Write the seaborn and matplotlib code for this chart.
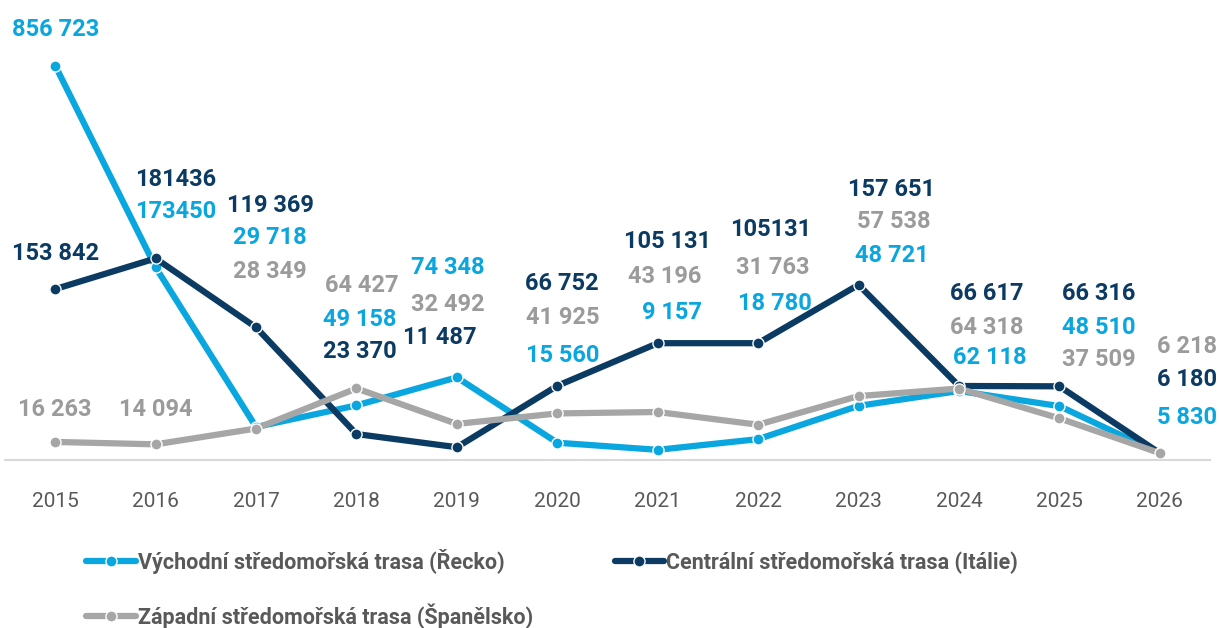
import pandas as pd
import matplotlib.pyplot as plt
import seaborn as sns
from matplotlib.lines import Line2D

# Data
years = list(range(2015, 2027))
east = [856723, 173450, 29718, 49158, 74348, 15560, 9157, 18780, 48721, 62118, 48510, 5830]
central = [153842, 181436, 119369, 23370, 11487, 66752, 105131, 105131, 157651, 66617, 66316, 6180]
west = [16263, 14094, 28349, 64427, 32492, 41925, 43196, 31763, 57538, 64318, 37509, 6218]

# Labels exactly as printed on the chart (spacing is inconsistent in the original)
east_lbl = ["856 723", "173450", "29 718", "49 158", "74 348", "15 560",
            "9 157", "18 780", "48 721", "62 118", "48 510", "5 830"]
central_lbl = ["153 842", "181436", "119 369", "23 370", "11 487", "66 752",
               "105 131", "105131", "157 651", "66 617", "66 316", "6 180"]
west_lbl = ["16 263", "14 094", "28 349", "64 427", "32 492", "41 925",
            "43 196", "31 763", "57 538", "64 318", "37 509", "6 218"]

names = ["Východní středomořská trasa (Řecko)",
         "Centrální středomořská trasa (Itálie)",
         "Západní středomořská trasa (Španělsko)"]
colors = {names[0]: "#0AA6DF", names[1]: "#0B3A62", names[2]: "#A6A6A6"}
label_colors = ["#0AA6DF", "#0B3A62", "#9B9B9B"]

# the original breaks the axis for the 2015 outlier, the point sits at the top
Y_CAP = 355000
Y_MAX = 414000

df = pd.concat([
    pd.DataFrame({"year": years, "value": vals, "route": name})
    for vals, name in zip([east, central, west], names)
])
df["plot_value"] = df["value"].clip(upper=Y_CAP)

sns.set_theme(style="white")
plt.rcParams["font.family"] = ["Roboto", "DejaVu Sans"]

W, H = 1219, 628
AX_BOTTOM = 460
fig = plt.figure(figsize=(W / 100, H / 100), dpi=100)
ax = fig.add_axes([5 / W, 1 - AX_BOTTOM / H, 1205 / W, AX_BOTTOM / H])

sns.lineplot(data=df, x="year", y="plot_value", hue="route", hue_order=names,
             palette=colors, marker="o", markersize=8, markeredgecolor="white",
             markeredgewidth=1, linewidth=4.5, legend=False, ax=ax)

ax.set_xlim(2014.5, 2026.5)
ax.set_ylim(0, Y_MAX)
ax.set_xticks(years)
ax.set_xticklabels([str(y) for y in years])
ax.set_yticks([])
ax.set_xlabel("")
ax.set_ylabel("")
for s in ["top", "right", "left"]:
    ax.spines[s].set_visible(False)
ax.spines["bottom"].set_color("#D9D9D9")
ax.spines["bottom"].set_linewidth(1.5)
ax.tick_params(axis="x", length=0, pad=23, labelsize=15, labelcolor="#595959")
ax.patch.set_alpha(0)

# label placement (pixel y of label centre, pixel x shift from the point)
east_y = [29, 212, 238, 320, 267, 355, 313, 303, 255, 358, 327, 417]
central_y = [253, 180, 205, 352, 338, 283, 242, 230, 190, 293, 293, 380]
west_y = [410, 410, 272, 285, 305, 317, 277, 267, 222, 327, 360, 347]
east_dx = [0, 20, 14, 3, -9, 5, 14, 17, 33, 31, 39, 27]
central_dx = [0, 20, 14, 3, -17, 5, 10, 13, 33, 28, 39, 27]
west_dx = [0, 0, 14, 5, -9, 5, 7, 15, 35, 28, 39, 27]

for lbls, ys, dxs, col in zip([east_lbl, central_lbl, west_lbl],
                               [east_y, central_y, west_y],
                               [east_dx, central_dx, west_dx], label_colors):
    for yr, lbl, ypx, dx in zip(years, lbls, ys, dxs):
        ax.annotate(lbl, xy=(yr, 1 - ypx / AX_BOTTOM), xycoords=("data", "axes fraction"),
                    xytext=(dx * 0.72, 0), textcoords="offset points",
                    ha="center", va="center", fontsize=17, fontweight="bold",
                    color=col, annotation_clip=False)

handles = [Line2D([], [], color=colors[n], lw=4.5, marker="o", markersize=8,
                  markeredgecolor="white", markeredgewidth=1) for n in names]
# column-major fill: row 1 = east, central; row 2 = west
fig.legend([handles[0], handles[2], handles[1]], [names[0], names[2], names[1]],
           ncol=2, loc="upper left", bbox_to_anchor=(86 / W, 1 - 549 / H),
           frameon=False, handlelength=2.3, handletextpad=0.1, columnspacing=3.8,
           labelspacing=1.35, borderpad=0, borderaxespad=0, numpoints=1,
           prop={"weight": "bold", "size": 15.5}, labelcolor="#595959")

plt.savefig("out.png", dpi=100)
